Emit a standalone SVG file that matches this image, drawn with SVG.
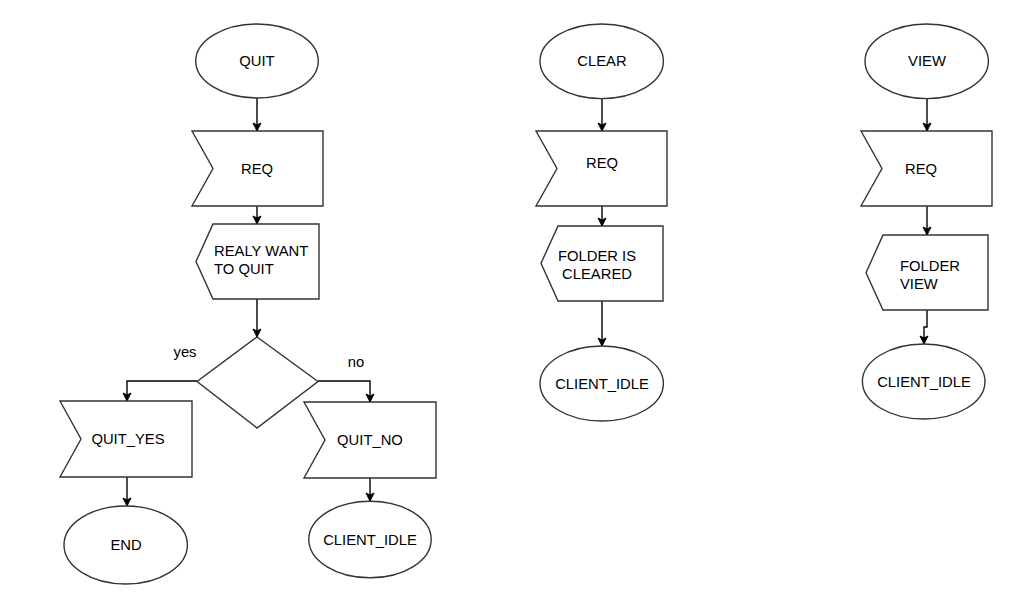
<svg xmlns="http://www.w3.org/2000/svg" width="1018" height="601" viewBox="0 0 1018 601">
<style>
.shape{fill:#ffffff;stroke:#333333;stroke-width:1.4}
.conn{fill:none;stroke:#000000;stroke-width:1.4}
text{font-family:"Liberation Sans",Arial,sans-serif;font-size:14.8px;fill:#000000}
.c{text-anchor:middle}
</style>
<defs>
<marker id="arr" viewBox="0 0 10 10" refX="9" refY="5" markerWidth="10" markerHeight="10" markerUnits="userSpaceOnUse" orient="auto">
<path d="M1,1 L9,5 L1,9 L3,5 Z" fill="#000000" stroke="#000000" stroke-width="1"/>
</marker>
</defs>
<rect width="1018" height="601" fill="#ffffff"/>
<g id="connectors">
<path class="conn" d="M257,98 L257,131" marker-end="url(#arr)"/>
<path class="conn" d="M257,206 L257,224" marker-end="url(#arr)"/>
<path class="conn" d="M257,299 L257,337" marker-end="url(#arr)"/>
<path class="conn" d="M197,381 L127,381 L127,401" marker-end="url(#arr)"/>
<path class="conn" d="M318,381 L370,381 L370,402" marker-end="url(#arr)"/>
<path class="conn" d="M127,477 L127,506" marker-end="url(#arr)"/>
<path class="conn" d="M370,478 L370,501" marker-end="url(#arr)"/>
<path class="conn" d="M602,99 L602,131" marker-end="url(#arr)"/>
<path class="conn" d="M602,206 L602,226" marker-end="url(#arr)"/>
<path class="conn" d="M602,301 L602,346" marker-end="url(#arr)"/>
<path class="conn" d="M927,99 L927,131" marker-end="url(#arr)"/>
<path class="conn" d="M927,206 L927,235" marker-end="url(#arr)"/>
<path class="conn" d="M927,310 L927,327 L924,327 L924,344" marker-end="url(#arr)"/>
<text x="185" y="357" class="c">yes</text>
<text x="356" y="367" class="c">no</text>
</g>
<g id="quit">
<ellipse class="shape" cx="257" cy="61" rx="61.3" ry="37"/>
<text x="257" y="66" class="c">QUIT</text>
</g>
<g id="req1">
<polygon class="shape" points="192,131 323,131 323,206 192,206 213,168.5"/>
<text x="257" y="174" class="c">REQ</text>
</g>
<g id="realy">
<polygon class="shape" points="213,224 319,224 319,299 213,299 196,261.5"/>
<text x="214" y="256">REALY WANT</text>
<text x="214" y="274">TO QUIT</text>
</g>
<g id="decision">
<polygon class="shape" points="257,337 318,381.5 257,428 197,381.5"/>
</g>
<g id="quit_yes">
<polygon class="shape" points="60,401 192,401 192,477 60,477 81,439"/>
<text x="128" y="444" class="c">QUIT_YES</text>
</g>
<g id="quit_no">
<polygon class="shape" points="304,402 436,402 436,478 304,478 325,440"/>
<text x="370" y="445" class="c">QUIT_NO</text>
</g>
<g id="end">
<ellipse class="shape" cx="125.7" cy="545" rx="61.7" ry="39"/>
<text x="126" y="550" class="c">END</text>
</g>
<g id="client_idle1">
<ellipse class="shape" cx="370" cy="539.5" rx="61.2" ry="38.3"/>
<text x="370" y="545" class="c">CLIENT_IDLE</text>
</g>
<g id="clear">
<ellipse class="shape" cx="601.7" cy="61.3" rx="61.7" ry="37.3"/>
<text x="602" y="66" class="c">CLEAR</text>
</g>
<g id="req2">
<polygon class="shape" points="536,131 667,131 667,206 536,206 557,168.5"/>
<text x="602" y="168" class="c">REQ</text>
</g>
<g id="folder_cleared">
<polygon class="shape" points="558,226 663,226 663,301 558,301 541,263.3"/>
<text x="597" y="261" class="c">FOLDER IS</text>
<text x="597" y="279" class="c">CLEARED</text>
</g>
<g id="client_idle2">
<ellipse class="shape" cx="601.7" cy="383.5" rx="61.7" ry="37.5"/>
<text x="602" y="389" class="c">CLIENT_IDLE</text>
</g>
<g id="view">
<ellipse class="shape" cx="926.7" cy="61.3" rx="61.7" ry="37.3"/>
<text x="927" y="66" class="c">VIEW</text>
</g>
<g id="req3">
<polygon class="shape" points="861,131 992,131 992,206 861,206 882,168.5"/>
<text x="921" y="174" class="c">REQ</text>
</g>
<g id="folder_view">
<polygon class="shape" points="883,235 988,235 988,310 883,310 866,272.7"/>
<text x="900" y="271">FOLDER</text>
<text x="900" y="289">VIEW</text>
</g>
<g id="client_idle3">
<ellipse class="shape" cx="923.7" cy="381.5" rx="61.3" ry="37.5"/>
<text x="924" y="387" class="c">CLIENT_IDLE</text>
</g>
</svg>
